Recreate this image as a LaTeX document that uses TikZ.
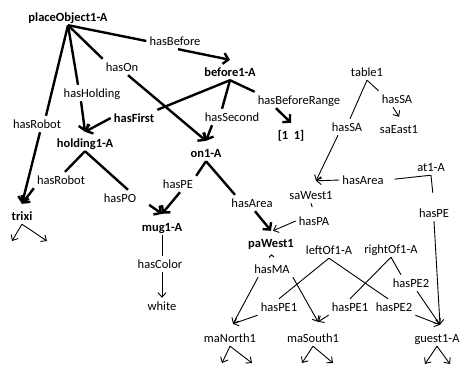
\documentclass[tikz,border=0pt]{standalone}
\usepackage{fontspec}
\setmainfont{Carlito}
\usetikzlibrary{arrows.meta}
\newcommand{\fanout}[3]{%
  \draw[thn,smalltip] (#1.south) -- (#2);
  \draw[thn,smalltip] (#1.south) -- (#3);
}

\begin{document}
\begin{tikzpicture}[x=1pt,y=-1pt,font=\fontsize{12.5}{14}\selectfont,
    lbl/.style={inner sep=3pt,text height=9pt,text depth=1pt},
    key/.style={lbl,font=\fontsize{12.5}{14}\selectfont\bfseries},
    thk/.style={line width=2.4pt},
    thn/.style={line width=0.9pt},
    bigtip/.style={-{Straight Barb[length=5pt,width=11pt]}},
    smalltip/.style={-{Straight Barb[length=4.5pt,width=8pt]}},
    carettip/.style={-{Straight Barb[length=2.5pt,width=5pt]}}]
  \clip (0,0) rectangle (461,365);
  \node[key] (placeObj) at (68,17) {placeObject1-A};
  \node[lbl] (hasBefore) at (175,41) {hasBefore};
  \node[key] (before) at (230,72) {before1-A};
  \node[lbl] (hasOn) at (122,67) {hasOn};
  \node[lbl] (hasHolding) at (92,93) {hasHolding};
  \node[key] (hasFirst) at (134,118) {hasFirst};
  \node[lbl] (hasSecond) at (232,117) {hasSecond};
  \node[lbl] (hasRobotA) at (37,124) {hasRobot};
  \node[key] (holding) at (85,143) {holding1-A};
  \node[key] (on) at (206,153) {on1-A};
  \node[lbl] (hasRange) at (299,100) {hasBeforeRange};
  \node[key] (range) at (291,135) {[1~~1]};
  \node[lbl] (table) at (367,72) {table1};
  \node[lbl] (hasSAe) at (397,99) {hasSA};
  \node[lbl] (saEast) at (399,129) {saEast1};
  \node[lbl] (hasSAw) at (347,127) {hasSA};
  \node[lbl] (atOne) at (431,167) {at1-A};
  \node[lbl] (hasAreaAt) at (363,180) {hasArea};
  \node[lbl] (saWest) at (311,195) {saWest1};
  \node[lbl] (hasPA) at (314,221) {hasPA};
  \node[lbl] (hasPEat) at (434,213) {hasPE};
  \node[lbl] (hasAreaOn) at (252,203) {hasArea};
  \node[key] (paWest) at (271,243) {paWest1};
  \node[lbl] (hasMA) at (272,269) {hasMA};
  \node[lbl] (leftOf) at (329,250) {leftOf1-A};
  \node[lbl] (rightOf) at (391,249) {rightOf1-A};
  \node[lbl] (hasPEtwoR) at (411,283) {hasPE2};
  \node[lbl] (hasPEoneL) at (279,307) {hasPE1};
  \node[lbl] (hasPEoneR) at (350,307) {hasPE1};
  \node[lbl] (hasPEtwoL) at (394,307) {hasPE2};
  \node[lbl] (maNorth) at (230,338) {maNorth1};
  \node[lbl] (maSouth) at (313,338) {maSouth1};
  \node[lbl] (guest) at (437,338) {guest1-A};
  \node[key] (trixi) at (22,216) {trixi};
  \node[lbl] (hasRobotB) at (61,180) {hasRobot};
  \node[lbl] (hasPO) at (120,198) {hasPO};
  \node[lbl] (hasPEon) at (178,184) {hasPE};
  \node[key] (mug) at (162,227) {mug1-A};
  \node[lbl] (hasColor) at (160,264) {hasColor};
  \node[lbl] (white) at (162,306) {white};

  \draw[thk] (placeObj.south) -- (hasBefore.west);
  \draw[thk] (placeObj.south) -- (hasOn.north west);
  \draw[thk] (placeObj.south) -- ([xshift=-14pt]hasHolding.north);
  \draw[thk] (placeObj.south) -- ([xshift=9pt]hasRobotA.north);
  \draw[thk,bigtip] ([xshift=3pt]hasBefore.south) -- ([yshift=4pt]before.north);
  \draw[thk,bigtip] ([xshift=6pt]hasOn.south) -- ([yshift=4pt]on.north);
  \draw[thk,bigtip] ([xshift=-11pt]hasHolding.south) -- ([yshift=3pt]holding.north);
  \draw[thk,bigtip] ([xshift=3pt]hasRobotA.south) -- ([yshift=4pt]trixi.north);
  \draw[thk] (before.south) -- (hasFirst.north east);
  \draw[thk] (before.south) -- ([xshift=-10pt]hasSecond.north);
  \draw[thk] (before.south) -- (hasRange.north west);
  \draw[thk,bigtip] (hasFirst.west) -- ([yshift=3pt]holding.north);
  \draw[thk,bigtip] ([xshift=-20pt]hasSecond.south) -- ([yshift=4pt]on.north);
  \draw[thk,bigtip] ([xshift=-23pt]hasRange.south) -- ([yshift=4pt]range.north);
  \draw[thk] (holding.south) -- ([xshift=4pt]hasRobotB.north);
  \draw[thk] (holding.south) -- ([xshift=8pt]hasPO.north);
  \draw[thk,bigtip] (hasRobotB.south west) -- ([yshift=4pt]trixi.north);
  \draw[thk,bigtip,shorten <=12pt] (hasPO.east) -- ([yshift=5pt]mug.north);
  \draw[thk] (on.south) -- (hasPEon.north east);
  \draw[thk] (on.south) -- ([xshift=-17pt]hasAreaOn.north);
  \draw[thk,bigtip] ([xshift=2pt]hasPEon.south) -- ([yshift=5pt]mug.north);
  \draw[thk,bigtip] ([xshift=3pt]hasAreaOn.south) -- ([yshift=4pt]paWest.north);

  \draw[thn] (table.south) -- ([xshift=3pt]hasSAw.north);
  \draw[thn] (table.south) -- (hasSAe.north west);
  \draw[thn,smalltip] ([xshift=-9pt]hasSAw.south) -- ([xshift=5pt,yshift=6pt]saWest.north);
  \draw[thn,smalltip] ([xshift=-4pt]hasSAe.south) -- ([yshift=4pt]saEast.north);
  \draw[thn,shorten >=8pt] (atOne.south) -- (hasAreaAt.east);
  \draw[thn,shorten >=12pt] (atOne.south) -- (hasPEat.north);
  \draw[thn,smalltip] (hasAreaAt.west) -- ([xshift=5pt,yshift=6pt]saWest.north);
  \draw[thn,shorten >=6pt] (saWest.south) -- (hasPA.north);
  \draw[thn,smalltip] (hasPA.west) -- ([xshift=2pt,yshift=4pt]paWest.north);
  \draw[thn,smalltip] (hasPEat.south) -- ([xshift=3pt,yshift=5pt]guest.north);
  \draw[thn,carettip,shorten <=5pt,shorten >=3pt] (hasMA.north) -- (paWest.south);
  \draw[thn,smalltip] ([xshift=7pt]hasMA.south west) -- ([xshift=3pt,yshift=6pt]maNorth.north);
  \draw[thn,smalltip] (hasMA.south east) -- ([xshift=5pt,yshift=8pt]maSouth.north);
  \draw[thn] (leftOf.south) -- (hasPEoneL.north);
  \draw[thn] (leftOf.south) -- ([xshift=-6pt]hasPEtwoL.north);
  \draw[thn] (rightOf.south) -- (hasPEoneR.north);
  \draw[thn] (rightOf.south) -- ([xshift=-10pt]hasPEtwoR.north);
  \draw[thn,smalltip] (hasPEoneL.south west) -- ([xshift=3pt,yshift=6pt]maNorth.north);
  \draw[thn,smalltip] (hasPEoneR.south west) -- ([xshift=5pt,yshift=8pt]maSouth.north);
  \draw[thn,smalltip] (hasPEtwoL.south east) -- ([xshift=3pt,yshift=5pt]guest.north);
  \draw[thn,smalltip] ([xshift=6pt]hasPEtwoR.south) -- ([xshift=3pt,yshift=5pt]guest.north);
  \draw[thn] (mug.south) -- (mug.south |- hasColor.north);
  \draw[thn,smalltip] (hasColor.south -| white) -- (white.north);

  \coordinate (trixiL) at (12,241);
  \coordinate (trixiR) at (47,241);
  \coordinate (maNorthL) at (222,363);
  \coordinate (maNorthR) at (252,363);
  \coordinate (maSouthL) at (302,363);
  \coordinate (maSouthR) at (333,363);
  \coordinate (guestL) at (425,364);
  \coordinate (guestR) at (450,364);
  \fanout{trixi}{trixiL}{trixiR}
  \fanout{maNorth}{maNorthL}{maNorthR}
  \fanout{maSouth}{maSouthL}{maSouthR}
  \fanout{guest}{guestL}{guestR}
\end{tikzpicture}
\end{document}
